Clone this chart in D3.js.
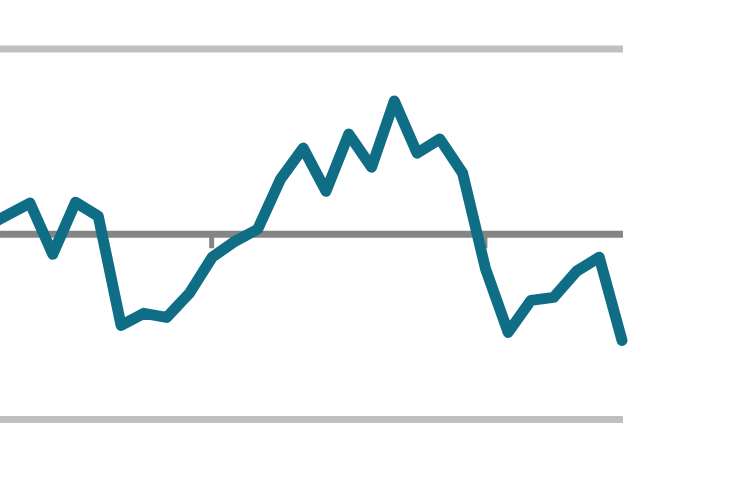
<!DOCTYPE html>
<html>
<head>
<meta charset="utf-8">
<script src="https://cdn.jsdelivr.net/npm/d3@7"></script>
<style>
  html, body { margin: 0; padding: 0; background: #fff; }
  svg { display: block; }
</style>
</head>
<body>
<svg></svg>
<script>
const width = 750,
      height = 500

// month index (0 = first fully visible point)
const months = [-2, -1, 0, 1, 2, 3, 4, 5, 6, 7, 8, 9, 10, 11, 12, 13, 14, 15, 16, 17, 18, 19, 20, 21, 22, 23, 24, 25, 26]
const values = [0.38, 1.03, 1.68, -1.08, 1.73, 0.97, -4.92, -4.27, -4.49, -3.19, -1.24, -0.38, 0.27, 2.97, 4.65, 2.32, 5.41, 3.62, 7.19, 4.38, 5.14, 3.3, -1.84, -5.3, -3.57, -3.41, -2.0, -1.24, -5.73]

const gridValues = [10, -10]
const baseValue = 0
const yearTicks = [8, 20]

const data = months.map((m, i) => ({m: m, v: values[i]}))

const svg = d3.select("svg")
  .attr("width", width)
  .attr("height", height)

const x = d3.scaleLinear()
  .domain([0, 26])
  .range([30, 622])

const y = d3.scaleLinear()
  .domain([-10, 10])
  .range([419.5, 49])

const right = x(26) + 1

// light grid lines
svg.selectAll("line.grid")
  .data(gridValues)
  .enter().append("line").classed("grid", true)
    .attr("x1", 0)
    .attr("x2", right)
    .attr("y1", d => y(d))
    .attr("y2", d => y(d))
    .style("stroke", "#c0c0c0")
    .style("stroke-width", 7)

// year ticks hanging under the baseline
const axis = d3.axisBottom(x)
  .tickValues(yearTicks)
  .tickSize(14)
  .tickFormat("")

svg.append("g")
  .attr("transform", `translate(-1,${y(baseValue)})`)
  .call(axis)
  .call(g => g.select(".domain").remove())
  .call(g => g.selectAll(".tick line")
    .style("stroke", "#858585")
    .style("stroke-width", 5))

// baseline
svg.append("line")
  .attr("x1", 0)
  .attr("x2", right)
  .attr("y1", y(baseValue))
  .attr("y2", y(baseValue))
  .style("stroke", "#858585")
  .style("stroke-width", 7)

const line = d3.line()
  .x(d => x(d.m))
  .y(d => y(d.v))

svg.append("path")
  .datum(data)
  .attr("d", line)
  .style("fill", "none")
  .style("stroke", "#0f6e86")
  .style("stroke-width", 11)
  .style("stroke-linejoin", "round")
  .style("stroke-linecap", "round")
</script>
</body>
</html>
